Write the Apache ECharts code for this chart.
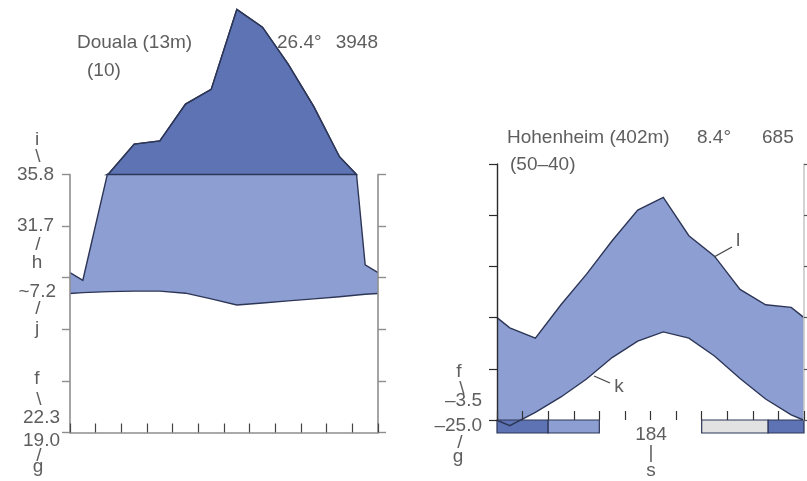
<!DOCTYPE html>
<html>
<head>
<meta charset="utf-8">
<script src="https://cdn.jsdelivr.net/npm/echarts@6/dist/echarts.min.js"></script>
<style>
  html, body { margin: 0; padding: 0; background: #ffffff; }
  #chart { width: 807px; height: 481px; }
</style>
</head>
<body>
<div id="chart"></div>
<script>
// Monthly means, January to December
const monthLabels = ['Jan', 'Feb', 'Mar', 'Apr', 'May', 'Jun', 'Jul', 'Aug', 'Sep', 'Oct', 'Nov', 'Dec'];

// Douala (13 m): temperature in °C, precipitation in mm
const doualaTemp = [27.1, 27.3, 27.4, 27.4, 27.0, 25.9, 24.7, 25.1, 25.5, 25.9, 26.3, 26.8];
const doualaPrec = [59, 102, 218, 230, 373, 430, 740, 671, 528, 363, 169, 65];

// Hohenheim (402 m): temperature in °C, precipitation in mm
const hohenTemp = [-1.1, 1.5, 4.5, 8.0, 12.2, 15.4, 17.2, 16.0, 12.5, 8.1, 4.1, 1.0];
const hohenPrec = [36, 32, 45, 57, 70, 82, 87, 72, 64, 51, 45, 44];

// Frost band under the Hohenheim month axis (in months from 1 January)
const frostStart = [0, 2, 8, 10.6];
const frostEnd   = [2, 4, 10.6, 12];
const frostKind  = ['frost', 'possible', 'late', 'frost'];

const DARK = '#5d73b4';
const LIGHT = '#8d9fd2';
const PALE = '#e2e2e2';
const INK = '#2d3657';
const TEXT = '#5e5e5e';
const FONT = 'Liberation Sans, Arial, sans-serif';

// Walter–Lieth precipitation scale: 20 mm per 10 °C up to 100 mm, ten times compressed above
function precToScale(p) {
  return p <= 100 ? p / 2 : 50 + (p - 100) / 20;
}

// Month-midpoint series with the December/January mean closing both edges
function monthPoints(vals) {
  const edge = (vals[0] + vals[vals.length - 1]) / 2;
  const pts = [[0, edge]];
  vals.forEach((v, i) => pts.push([i + 0.5, v]));
  pts.push([12, edge]);
  return pts;
}

// Precipitation curve in the scaled units, with a vertex wherever it passes 100 mm
function precPoints(vals) {
  const raw = monthPoints(vals);
  const out = [];
  for (let i = 0; i < raw.length; i++) {
    out.push(raw[i]);
    if (i < raw.length - 1) {
      const a = raw[i][1], b = raw[i + 1][1];
      if ((a - 100) * (b - 100) < 0) {
        const t = (100 - a) / (b - a);
        out.push([raw[i][0] + t * (raw[i + 1][0] - raw[i][0]), 100]);
      }
    }
  }
  return out.map(p => [p[0], precToScale(p[1])]);
}

function climateRenderer(temps, precs, withBand) {
  return function (params, api) {
    const c = p => api.coord(p);
    const tp = monthPoints(temps);
    const pp = precPoints(precs);
    const children = [];

    // humid season: between the temperature curve and precipitation up to 100 mm
    const upper = pp.map(p => [p[0], Math.min(p[1], 50)]);
    const humid = upper.concat(tp.slice().reverse()).map(c);
    children.push({ type: 'polygon', shape: { points: humid }, style: { fill: LIGHT } });

    // perhumid part above 100 mm
    let run = [];
    const runs = [];
    pp.forEach(p => {
      if (p[1] >= 50) { run.push(p); }
      else if (run.length) { runs.push(run); run = []; }
    });
    if (run.length) runs.push(run);
    runs.forEach(r => {
      if (r.length > 2) {
        children.push({
          type: 'polygon', shape: { points: r.map(c) },
          style: { fill: DARK, stroke: INK, lineWidth: 1.4 }
        });
      }
    });

    if (withBand) {
      const y0 = c([0, 0])[1];
      for (let i = 0; i < frostStart.length; i++) {
        const x0 = c([frostStart[i], 0])[0];
        const x1 = c([frostEnd[i], 0])[0];
        const fill = frostKind[i] === 'frost' ? DARK : (frostKind[i] === 'possible' ? LIGHT : PALE);
        children.push({
          type: 'rect', shape: { x: x0, y: y0, width: x1 - x0, height: 13 },
          style: { fill: fill, stroke: INK, lineWidth: 1.2 }
        });
      }
    }

    children.push({ type: 'polyline', shape: { points: pp.map(c) },
      style: { fill: null, stroke: INK, lineWidth: 1.4 } });
    children.push({ type: 'polyline', shape: { points: tp.map(c) },
      style: { fill: null, stroke: INK, lineWidth: 1.4 } });

    return { type: 'group', children: children };
  };
}

function txt(s, x, y, align, size) {
  return {
    type: 'text', x: x, y: y, z: 20,
    style: {
      text: s, fill: TEXT, font: (size || 19) + 'px ' + FONT,
      align: align || 'left', verticalAlign: 'middle'
    }
  };
}
function seg(x1, y1, x2, y2) {
  return { type: 'line', z: 20, shape: { x1: x1, y1: y1, x2: x2, y2: y2 },
    style: { stroke: '#444', lineWidth: 1.3 } };
}

const greyAxis = { show: true, lineStyle: { color: '#8e8e8e', width: 1.6 } };

const chart = echarts.init(document.getElementById('chart'), null, { renderer: 'canvas' });
chart.setOption({
  animation: false,
  backgroundColor: '#ffffff',
  grid: [
    { left: 70, top: 174.5, width: 308, height: 258 },
    { left: 497, top: 164, width: 307, height: 256 }
  ],
  xAxis: [
    { gridIndex: 0, type: 'value', min: 0, max: 12, interval: 1, z: 5,
      axisLine: greyAxis,
      axisTick: { show: true, inside: true, length: 9, lineStyle: { color: '#444', width: 1.2 } },
      axisLabel: { show: false }, splitLine: { show: false } },
    { gridIndex: 1, type: 'value', min: 0, max: 12, interval: 1, z: 5,
      axisLine: { show: false },
      axisTick: { show: true, inside: true, length: 9, lineStyle: { color: '#333', width: 1.2 } },
      axisLabel: { show: false }, splitLine: { show: false } }
  ],
  yAxis: [
    { gridIndex: 0, type: 'value', min: 0, max: 50, interval: 10, position: 'left', z: 5,
      axisLine: greyAxis,
      axisTick: { show: true, length: 8, lineStyle: { color: '#8e8e8e', width: 1.4 } },
      axisLabel: { show: false }, splitLine: { show: false } },
    { gridIndex: 0, type: 'value', min: 0, max: 50, interval: 10, position: 'right', z: 5,
      axisLine: greyAxis,
      axisTick: { show: true, length: 8, lineStyle: { color: '#8e8e8e', width: 1.4 } },
      axisLabel: { show: false }, splitLine: { show: false } },
    { gridIndex: 1, type: 'value', min: 0, max: 50, interval: 10, position: 'left', z: 5,
      axisLine: { show: true, lineStyle: { color: '#2a2a2a', width: 1.4 } },
      axisTick: { show: true, length: 8, lineStyle: { color: '#2a2a2a', width: 1.2 } },
      axisLabel: { show: false }, splitLine: { show: false } },
    { gridIndex: 1, type: 'value', min: 0, max: 50, interval: 10, position: 'right', z: 5,
      axisLine: { show: true, lineStyle: { color: '#c8c8c8', width: 1.6 } },
      axisTick: { show: true, length: 8, lineStyle: { color: '#555', width: 1.2 } },
      axisLabel: { show: false }, splitLine: { show: false } }
  ],
  series: [
    { type: 'custom', name: 'Douala', xAxisIndex: 0, yAxisIndex: 0, clip: false, z: 2,
      data: [[0, 0]], renderItem: climateRenderer(doualaTemp, doualaPrec, false) },
    { type: 'custom', name: 'Hohenheim', xAxisIndex: 1, yAxisIndex: 2, clip: false, z: 2,
      data: [[0, 0]], renderItem: climateRenderer(hohenTemp, hohenPrec, true) }
  ],
  graphic: [
    // Douala header
    txt('Douala (13m)', 77, 43),
    txt('(10)', 87, 71),
    txt('26.4°', 277, 43),
    txt('3948', 378, 43, 'right'),
    // Douala temperature extremes
    txt('i', 37, 140, 'center'),
    txt('\\', 38, 157, 'center'),
    txt('35.8', 54, 175, 'right'),
    txt('31.7', 54, 226, 'right'),
    txt('/', 38, 245, 'center'),
    txt('h', 37, 263, 'center'),
    txt('~7.2', 56, 292, 'right'),
    txt('/', 38, 309, 'center'),
    txt('j', 37, 329, 'center'),
    txt('f', 37, 379, 'center'),
    txt('\\', 39, 400, 'center'),
    txt('22.3', 60, 418, 'right'),
    txt('19.0', 60, 441, 'right'),
    txt('/', 39, 456, 'center'),
    txt('g', 38, 467, 'center'),
    // Hohenheim header
    txt('Hohenheim (402m)', 507, 138),
    txt('8.4°', 697, 138),
    txt('685', 762, 138),
    txt('(50–40)', 510, 165),
    // Hohenheim temperature extremes
    txt('f', 459, 372, 'center'),
    txt('\\', 462, 389, 'center'),
    txt('–3.5', 482, 401, 'right'),
    txt('–25.0', 482, 426, 'right'),
    txt('/', 460, 443, 'center'),
    txt('g', 458, 457, 'center'),
    // frost-free days
    txt('184', 651, 435, 'center'),
    txt('|', 651, 453, 'center'),
    txt('s', 651, 471, 'center'),
    // curve keys
    seg(714, 257, 732, 247),
    txt('l', 738, 241, 'center'),
    seg(594, 376, 610, 383),
    txt('k', 619, 387, 'center')
  ]
});
</script>
</body>
</html>
